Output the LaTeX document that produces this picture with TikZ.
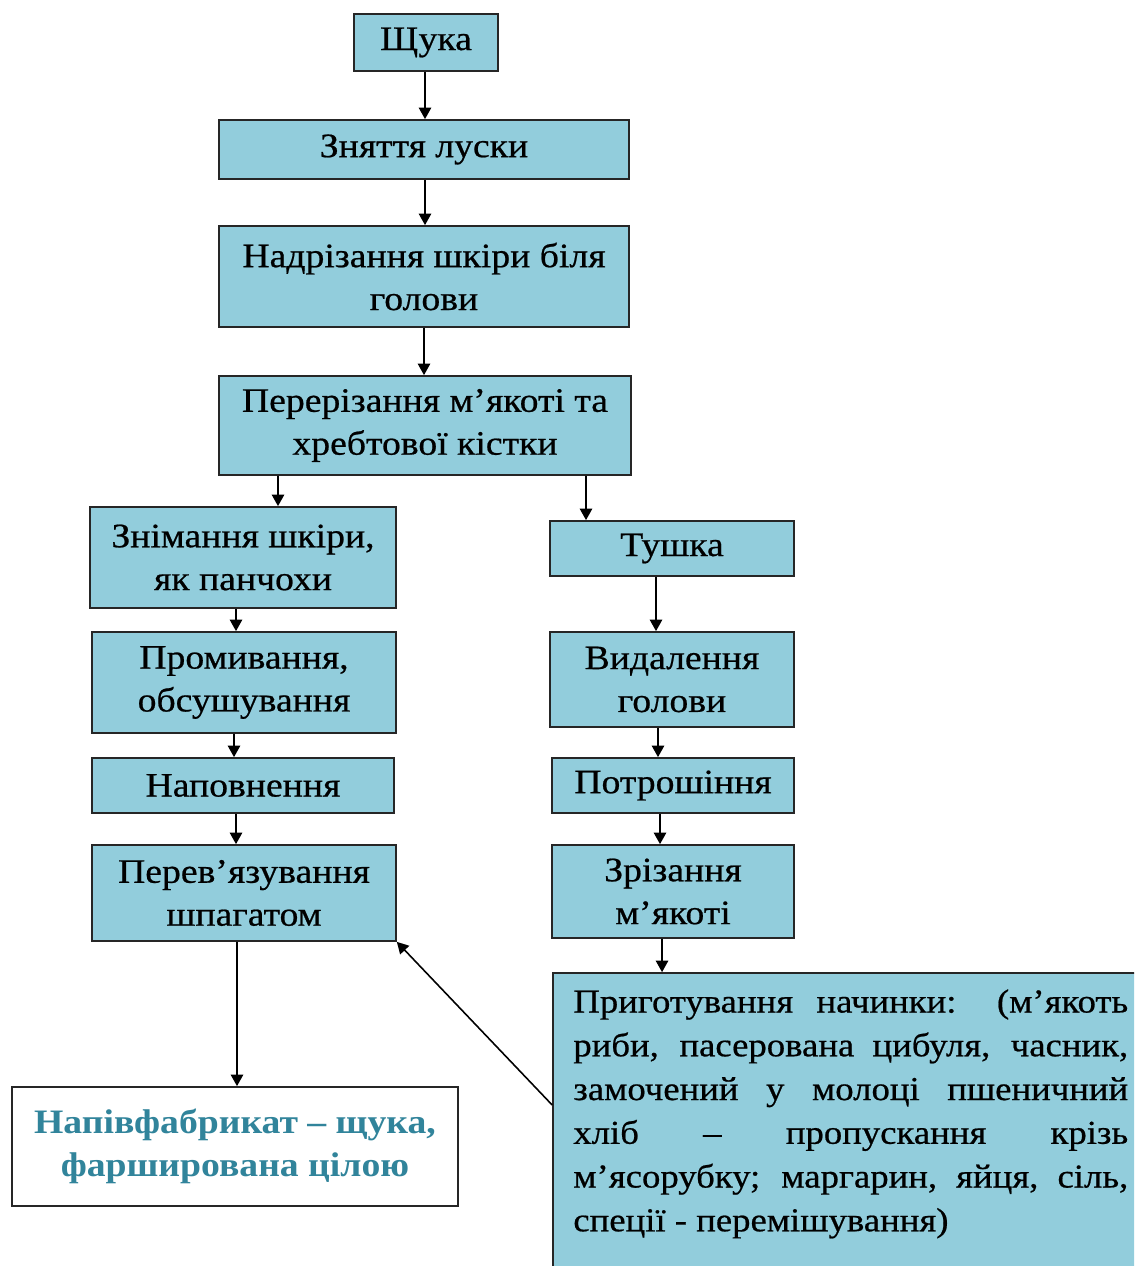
\documentclass[tikz,border=0pt]{standalone}
\usepackage{fontspec}
\setmainfont[FakeStretch=1.1,FakeBold=0.6]{Liberation Serif}
\newfontfamily\boldwide[FakeStretch=1.1]{Liberation Serif Bold}
\usetikzlibrary{arrows.meta}
\definecolor{boxblue}{HTML}{92CDDC}
\definecolor{tealtext}{HTML}{31849B}
\tikzset{
  stepbox/.style={draw=black!85, line width=1pt, fill=boxblue, inner sep=0pt, align=center,
    font=\fontsize{19.5}{24.4}\selectfont},
  arr/.style={draw=black, line width=0.9pt, -{Triangle[length=6.5pt,width=7pt]}},
}
\begin{document}
\begin{tikzpicture}[x=0.02cm,y=-0.02cm]
\useasboundingbox (0,0) rectangle (1134,1266);
\clip (0,0) rectangle (1134,1266);
\node[stepbox, minimum width=2.88cm, minimum height=1.14cm] (n1) at (426,42.5) {Щука};
\node[stepbox, minimum width=8.2cm, minimum height=1.18cm] (n2) at (424,149.5) {Зняття луски};
\node[stepbox, minimum width=8.2cm, minimum height=2.02cm] (n3) at (424,276.5) {Надрізання шкіри біля\\голови};
\node[stepbox, minimum width=8.24cm, minimum height=1.98cm] (n4) at (425,425.5) {Перерізання м’якоті та\\хребтової кістки};
\node[stepbox, minimum width=6.12cm, minimum height=2.02cm] (n5) at (243,557.5) {Знімання шкіри,\\як панчохи};
\node[stepbox, minimum width=6.08cm, minimum height=2.02cm] (n6) at (244,682.5) {Промивання,\\обсушування};
\node[stepbox, minimum width=6.04cm, minimum height=1.1cm] (n7) at (243,785.5) {Наповнення};
\node[stepbox, minimum width=6.08cm, minimum height=1.92cm] (n8) at (244,893) {Перев’язування\\шпагатом};
\node[stepbox, fill=white, text=tealtext, minimum width=8.92cm, minimum height=2.38cm,
  font=\boldwide\fontsize{19.5}{24.4}\selectfont] (n9) at (235,1146.5) {Напівфабрикат – щука,\\фарширована цілою};
\node[stepbox, minimum width=4.88cm, minimum height=1.1cm] (n10) at (672,548.5) {Тушка};
\node[stepbox, minimum width=4.88cm, minimum height=1.9cm] (n11) at (672,679.5) {Видалення\\голови};
\node[stepbox, minimum width=4.84cm, minimum height=1.1cm] (n12) at (673,785.5) {Потрошіння};
\node[stepbox, minimum width=4.84cm, minimum height=1.86cm] (n13) at (673,891.5) {Зрізання\\м’якоті};
\node[stepbox, minimum width=11.94cm, minimum height=6.34cm] (n14) at (851.5,1131.5) {};
\node[anchor=north west, inner sep=0pt, align=left, font=\fontsize{19}{24.9}\selectfont]
  (n14text) at (573,989) {%
\makebox[11.1cm][s]{Приготування начинки: (м’якоть}\\
\makebox[11.1cm][s]{риби, пасерована цибуля, часник,}\\
\makebox[11.1cm][s]{замочений у молоці пшеничний}\\
\makebox[11.1cm][s]{хліб \ – \ пропускання \ крізь}\\
\makebox[11.1cm][s]{м’ясорубку; маргарин, яйця, сіль,}\\
спеції - перемішування)};
% connectors
\draw[arr] ([xshift=-0.02cm]n1.south) -- ([xshift=0.02cm]n2.north);
\draw[arr] ([xshift=0.02cm]n2.south) -- ([xshift=0.02cm]n3.north);
\draw[arr] (n3.south) -- ([xshift=-0.02cm]n4.north);
\draw[arr] ([xshift=-2.94cm]n4.south) -- ([xshift=0.7cm]n5.north);
\draw[arr] ([xshift=3.22cm]n4.south) -- ([xshift=-1.72cm]n10.north);
\draw[arr] ([xshift=-0.14cm]n5.south) -- ([xshift=-0.16cm]n6.north);
\draw[arr] ([xshift=-0.2cm]n6.south) -- ([xshift=-0.18cm]n7.north);
\draw[arr] ([xshift=-0.14cm]n7.south) -- ([xshift=-0.16cm]n8.north);
\draw[arr] ([xshift=-0.14cm]n8.south) -- ([xshift=0.04cm]n9.north);
\draw[arr] ([xshift=-0.32cm]n10.south) -- ([xshift=-0.32cm]n11.north);
\draw[arr] ([xshift=-0.28cm]n11.south) -- ([xshift=-0.3cm]n12.north);
\draw[arr] ([xshift=-0.26cm]n12.south) -- ([xshift=-0.26cm]n13.north);
\draw[arr] ([xshift=-0.22cm]n13.south) -- ([xshift=-3.79cm]n14.north);
\draw[arr] ([yshift=0.53cm]n14.west) -- (n8.south east);
\end{tikzpicture}
\end{document}
